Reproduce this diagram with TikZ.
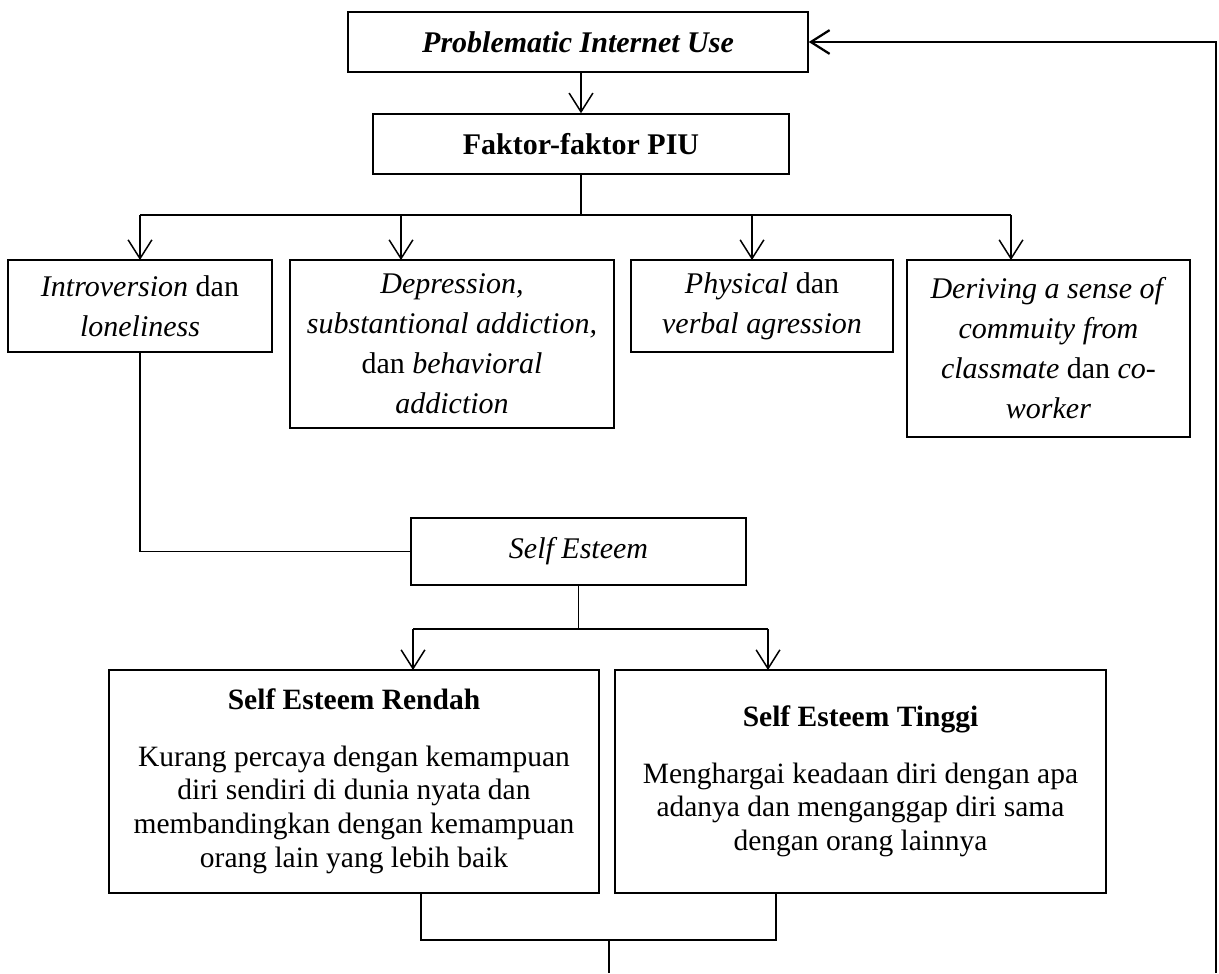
\documentclass[tikz,border=0pt]{standalone}
\usepackage{fontspec}
\setmainfont{Liberation Serif}
\usetikzlibrary{arrows.meta,calc}
\begin{document}
\begin{tikzpicture}[x=0.4pt,y=-0.4pt,
  box/.style={draw, line width=0.6pt, align=center, inner sep=0pt, font=\fontsize{12}{16}\selectfont},
  bigbox/.style={draw, line width=1pt, align=center, inner sep=0pt, font=\fontsize{11.8}{13.5}\selectfont},
  ln/.style={line width=0.6pt},
  thk/.style={line width=0.9pt},
  arr/.style={-{Straight Barb[length=7.5pt,width=9.5pt]}, line width=0.6pt},
  arrthk/.style={-{Straight Barb[length=7.5pt,width=9.5pt]}, line width=0.9pt}
]
\useasboundingbox (0,0) rectangle (1219,973);

\node[box, minimum width=184pt, minimum height=24pt] (top) at (578,42)
  {\textbf{\textit{Problematic Internet Use}}};
\node[box, minimum width=166.4pt, minimum height=24pt] (fak) at (581,144)
  {\textbf{Faktor-faktor PIU}};

\node[box, minimum width=105.6pt, minimum height=36.8pt] (B1) at (140,306)
  {\textit{Introversion} dan\\ \textit{loneliness}};
\node[box, minimum width=129.6pt, minimum height=67.2pt] (B2) at (452,344)
  {\textit{Depression,}\\ \textit{substantional addiction,}\\ dan \textit{behavioral}\\ \textit{addiction}};
\node[box, minimum width=104.8pt, minimum height=36.8pt] (B3) at (762,306)
  {\textit{Physical} dan\\ \textit{verbal agression}};
\node[box, minimum width=113.2pt, minimum height=70.8pt] (B4) at (1048.5,348.5)
  {\textit{Deriving a sense of}\\ \textit{commuity from}\\ \textit{classmate} dan \textit{co-}\\ \textit{worker}};

\node[box, minimum width=134pt, minimum height=26.8pt] (SE) at (578.5,551.5)
  {\textit{Self Esteem}};

\node[bigbox, minimum width=196pt, minimum height=89.2pt] (L) at (354,781.5)
  {\textbf{Self Esteem Rendah}\\[9pt]
   Kurang percaya dengan kemampuan\\ diri sendiri di dunia nyata dan\\
   membandingkan dengan kemampuan\\ orang lain yang lebih baik};
\node[bigbox, minimum width=196.4pt, minimum height=89.2pt] (R) at (860.5,781.5)
  {\textbf{Self Esteem Tinggi}\\[9pt]
   Menghargai keadaan diri dengan apa\\ adanya dan menganggap diri sama\\
   dengan orang lainnya};

% top arrow
\draw[arr] (top.south -| fak.north) -- (fak.north);

% bus to the four factors
\coordinate (busF) at (581,215);
\coordinate (t1) at (140,260);
\coordinate (t2) at (401,260);
\coordinate (t3) at (752,260);
\coordinate (t4) at (1011,260);
\draw[ln] (fak.south) -- (busF);
\draw[thk] (t1|-busF) -- (t4|-busF);
\foreach \i in {1,2,3,4} \draw[arr] (t\i|-busF) -- (t\i);

% introversion to self esteem
\draw[ln] (B1.south) |- (SE.west);

% self esteem bus
\coordinate (busS) at (578.5,629);
\coordinate (tL) at (413,670);
\coordinate (tR) at (768,670);
\draw[ln] (SE.south) -- (busS);
\draw[thk] (tL|-busS) -- (tR|-busS);
\draw[arr] (tL|-busS) -- (tL);
\draw[arr] (tR|-busS) -- (tR);

% bottom bus and feedback
\coordinate (bL) at (421,893);
\coordinate (bR) at (776,893);
\coordinate (busB) at (609,940);
\coordinate (endB) at (609,973);
\coordinate (fb) at (1216,973);
\draw[thk] (bL) -- (bL|-busB) -- (bR|-busB) -- (bR);
\draw[thk] (busB) -- (endB);
\draw[arrthk] (fb) |- (top.east);
\end{tikzpicture}
\end{document}
